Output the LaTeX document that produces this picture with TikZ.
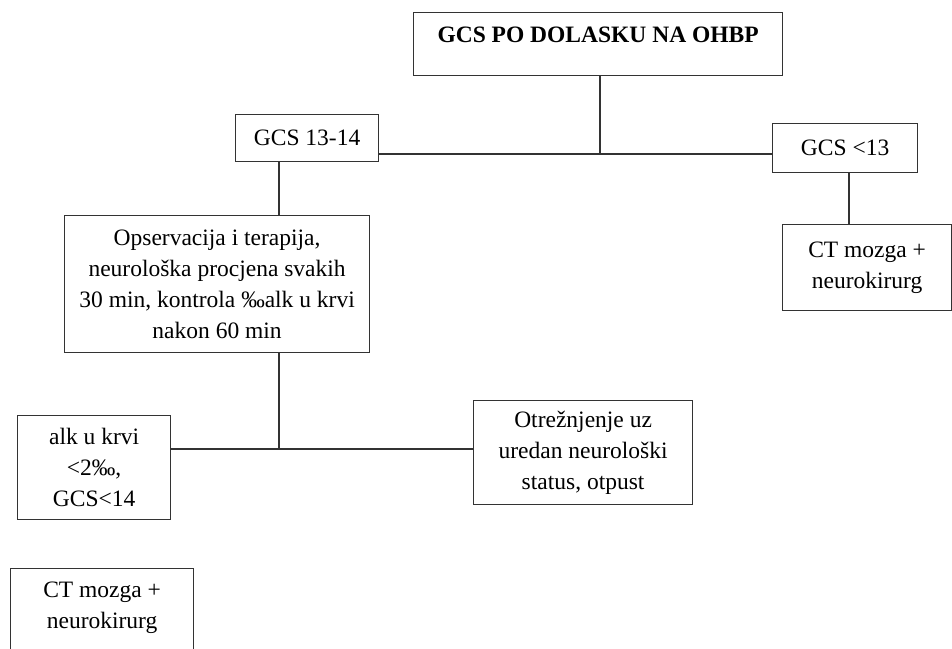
\documentclass[tikz,border=0pt]{standalone}
\usepackage{fontspec}
\setmainfont{Liberation Serif}

\begin{document}
\begin{tikzpicture}[x=1pt, y=-1pt,
  box/.style={draw=black!80, line width=1.2pt, anchor=north west, align=center, inner sep=0pt,
    font=\fontsize{23.5}{31}\selectfont},
  link/.style={draw=black!80, line width=1.2pt}]
\useasboundingbox (0,0) rectangle (952,648);
\clip (0,0) rectangle (952,648);
\node[box, minimum width=369pt, minimum height=63pt, text depth=19pt,
  font=\fontsize{23.5}{31}\selectfont\bfseries] (dolazak) at (413,12) {GCS PO DOLASKU NA OHBP};
\node[box, minimum width=143pt, minimum height=47pt] (gcsa) at (235,114) {GCS 13-14};
\node[box, minimum width=145pt, minimum height=49pt] (gcsb) at (772,123) {GCS <13};
\node[box, minimum width=169pt, minimum height=86pt] (ctdesno) at (782,224) {CT mozga +\\ neurokirurg};
\node[box, minimum width=305pt, minimum height=137pt] (opservacija) at (64,215)
  {Opservacija i terapija,\\ neurološka procjena svakih\\ 30 min, kontrola ‰alk u krvi\\ nakon 60 min};
\node[box, minimum width=153pt, minimum height=104pt] (alkohol) at (17,415) {alk u krvi\\ <2‰,\\ GCS<14};
\node[box, minimum width=219pt, minimum height=104pt] (otreznjenje) at (473,400)
  {Otrežnjenje uz\\ uredan neurološki\\ status, otpust};
\node[box, minimum width=183pt, minimum height=102pt, text depth=29pt] (ctlijevo) at (10,568) {CT mozga +\\ neurokirurg};
\coordinate (j1) at (600,154);
\coordinate (j2) at (279,449);
\coordinate (j3) at (849,0);
\draw[link] (dolazak.south -| j1) -- (j1);
\draw[link] (gcsa.east |- j1) -- (gcsb.west |- j1);
\draw[link] (gcsa.south -| j2) -- (opservacija.north -| j2);
\draw[link] (opservacija.south -| j2) -- (j2);
\draw[link] (alkohol.east |- j2) -- (otreznjenje.west |- j2);
\draw[link] (gcsb.south -| j3) -- (ctdesno.north -| j3);
\end{tikzpicture}
\end{document}
